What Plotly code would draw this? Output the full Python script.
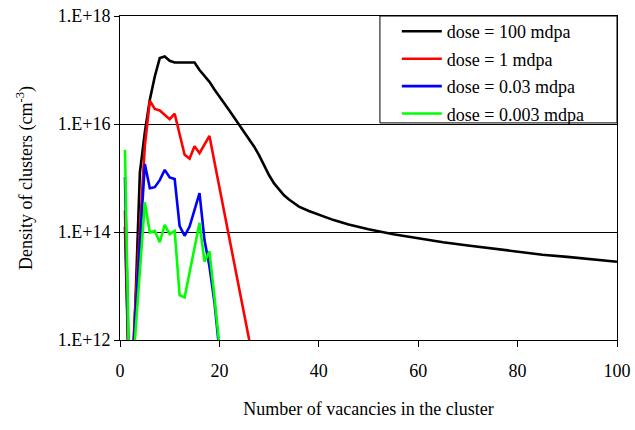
import plotly.graph_objects as go

# log10 of cluster density
x_small = list(range(1, 21))
red_x = list(range(1, 28))
red_log = [14.4, 10.5, 12.5, 14.1, 15.6, 16.43, 16.28, 16.25, 16.17, 16.09, 16.19, 15.81, 15.43, 15.36,
           15.59, 15.46, 15.62, 15.78, 15.3, 14.84, 14.37, 13.9, 13.42, 12.95, 12.47, 12.0, 11.5]
blue_log = [15.02, 10.5, 12.3, 13.9, 15.26, 14.81, 14.83, 14.96, 15.15, 15.01, 14.98, 14.11, 13.93, 14.1,
            14.41, 14.72, 13.85, 13.36, 12.7, 11.8]
green_log = [15.52, 10.5, 12.0, 13.3, 14.55, 13.99, 14.02, 13.81, 14.13, 13.96, 14.02, 12.83, 12.79, 13.25,
             13.71, 14.17, 13.45, 13.64, 12.8, 11.9]
black_x = list(range(1, 37)) + [38, 40, 43, 46, 50, 55, 60, 65, 70, 75, 80, 85, 90, 95, 100]
black_log = [14.1, 10.5, 12.4, 15.1, 15.85, 16.45, 16.88, 17.22, 17.25, 17.17, 17.14, 17.14, 17.14, 17.14,
             17.14, 17.0, 16.9, 16.78, 16.64, 16.5, 16.38, 16.25, 16.12, 15.98, 15.86, 15.72, 15.58, 15.42,
             15.22, 15.05, 14.9, 14.78, 14.68, 14.6, 14.53, 14.47, 14.39, 14.32, 14.22, 14.14, 14.05, 13.96,
             13.88, 13.81, 13.75, 13.69, 13.63, 13.58, 13.54, 13.49, 13.45]

names = ["dose = 100 mdpa", "dose = 1 mdpa", "dose = 0.03 mdpa", "dose = 0.003 mdpa"]
colors = ["#000000", "#FF0000", "#0000FF", "#00FF00"]
series_x = [black_x, red_x, x_small, x_small]
series_log = [black_log, red_log, blue_log, green_log]

ytick_vals = [1e12, 1e14, 1e16, 1e18]
ytick_text = ["1.E+12", "1.E+14", "1.E+16", "1.E+18"]

FONT = "Liberation Serif"

fig = go.Figure()
for i, (name, col, xs, ls) in enumerate(zip(names, colors, series_x, series_log)):
    fig.add_trace(go.Scatter(
        x=xs, y=[10 ** v for v in ls], mode="lines", name=name, legendgroup=f"g{i}",
        line=dict(color=col, width=2.6)))

fig.update_layout(
    width=635, height=430,
    margin=dict(l=120, r=18, t=16, b=90),
    paper_bgcolor="white", plot_bgcolor="white",
    font=dict(family=FONT, size=18, color="black"),
    legend=dict(x=0.557, y=1.009, xanchor="left", yanchor="top",
                borderwidth=0, bgcolor="rgba(0,0,0,0)",
                font=dict(family=FONT, size=18, color="black"),
                itemwidth=40, tracegroupgap=1),
    showlegend=True,
    shapes=[dict(type="rect", xref="paper", yref="paper", x0=0.523, x1=1.0, y0=0.67, y1=1.0,
                 line=dict(color="black", width=1), fillcolor="rgba(0,0,0,0)", layer="above")],
)
fig.update_xaxes(
    range=[0, 100], tickvals=[0, 20, 40, 60, 80, 100], automargin=False, ticklabeloverflow="allow",
    showline=True, linecolor="black", linewidth=1, mirror=True,
    ticks="outside", ticklen=6, tickcolor="black", showgrid=False, zeroline=False,
    tickfont=dict(family=FONT, size=18), ticklabelstandoff=8,
    title=dict(text="Number of vacancies in the cluster", font=dict(family=FONT, size=18), standoff=22),
)
fig.update_yaxes(
    type="log", range=[12, 18], tickvals=ytick_vals, ticktext=ytick_text, automargin=False,
    ticklabeloverflow="allow",
    showline=True, linecolor="black", linewidth=1, mirror=True,
    ticks="outside", ticklen=5, tickcolor="black",
    showgrid=True, gridcolor="black", gridwidth=1, zeroline=False,
    tickfont=dict(family=FONT, size=18),
    title=dict(text="Density of clusters (cm<sup>-3</sup>)", font=dict(family=FONT, size=18), standoff=20),
)

fig.write_html("out.html")
